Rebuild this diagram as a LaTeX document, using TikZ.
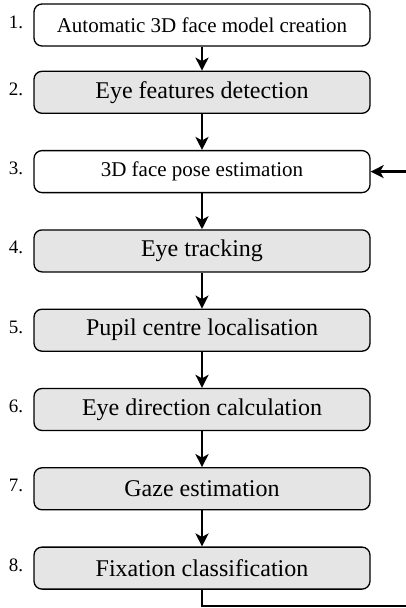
\documentclass[tikz,border=0pt]{standalone}
\usepackage{fontspec}
\setmainfont{Liberation Serif}
\usetikzlibrary{arrows.meta}
\usetikzlibrary{positioning}
\tikzset{stagebox/.style = {draw, line width=1.3pt, rounded corners=8pt,
                            minimum width=336pt, minimum height=42pt, inner sep=0pt},
         whitebox/.style = {stagebox, fill=white, font=\fontsize{21}{25}\selectfont},
         greybox/.style = {stagebox, fill=gray!20, font=\fontsize{24}{28}\selectfont},
         num/.style = {inner sep=0pt, font=\fontsize{19}{22}\selectfont},
         flow/.style = {line width=2.6pt, -{Stealth[length=13pt, width=13pt, inset=3.5pt]}}}

\begin{document}
\begin{tikzpicture}[x=1pt, y=1pt]
        \useasboundingbox (0,0) rectangle (406,-608);
        \node[whitebox] (s1) at (202,-25) {Automatic 3D face model creation};
        \node[greybox, below=24pt of s1] (s2) {Eye features detection};
        \node[whitebox, below=36pt of s2] (s3) {3D face pose estimation};
        \node[greybox, below=36pt of s3] (s4) {Eye tracking};
        \node[greybox, below=36pt of s4] (s5) {Pupil centre localisation};
        \node[greybox, below=36pt of s5] (s6) {Eye direction calculation};
        \node[greybox, below=36pt of s6] (s7) {Gaze estimation};
        \node[greybox, below=36pt of s7] (s8) {Fixation classification};
        % step numbers
        \foreach \i in {1,...,8}
            \node[num, left=10pt of s\i.west, anchor=base east, yshift=-3pt] (n\i) {\i.};
        % arrows
        \foreach \i/\j in {1/2,2/3,3/4,4/5,5/6,6/7,7/8}
            \draw[flow] (s\i) -- (s\j);
        % feedback loop (its right side lies past the page edge)
        \coordinate (c1) at (s8.south |- 0,-606);
        \coordinate (c2) at (412,-606);
        \draw[flow] (s8.south) -- (c1) -- (c2) -- (c2 |- s3.east) -- (s3.east);
    \end{tikzpicture}
\end{document}
